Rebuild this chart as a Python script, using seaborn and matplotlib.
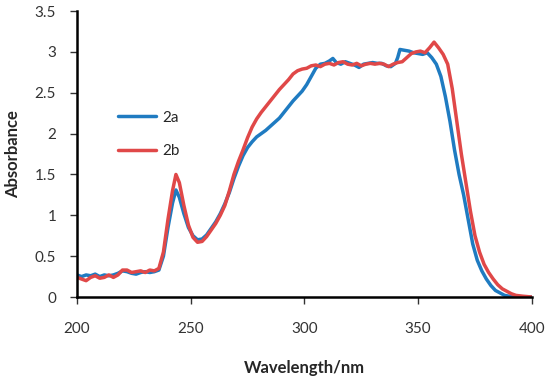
import numpy as np
import pandas as pd
import matplotlib
matplotlib.use("Agg")
import matplotlib.pyplot as plt
import seaborn as sns

# absorption spectra
wl_2a = [200, 202, 204, 206, 208, 210, 212, 214, 216, 218, 220, 222, 224, 226, 228, 230, 232, 234, 236,
         238, 240, 242, 243.5, 245, 247, 249, 251, 253, 255, 257, 259, 261, 263, 265, 267, 269, 271, 273,
         275, 277, 279, 281, 283, 285, 287, 289, 291, 293, 295, 297, 299, 301, 303, 305, 307, 309, 311,
         312.5, 314, 316, 318, 320, 322, 324, 326, 328, 330, 332, 334, 336, 338, 340, 341, 342, 344, 346,
         348, 350, 352, 354, 356, 358, 360, 362, 364, 366, 368, 370, 372, 374, 376, 378, 380, 382, 384,
         386, 388, 390, 394, 400]
abs_2a = [0.27, 0.25, 0.27, 0.26, 0.28, 0.25, 0.27, 0.26, 0.27, 0.29, 0.32, 0.31, 0.29, 0.28, 0.30, 0.31,
          0.30, 0.31, 0.33, 0.50, 0.85, 1.15, 1.31, 1.22, 1.02, 0.85, 0.75, 0.70, 0.71, 0.76, 0.84, 0.92,
          1.02, 1.14, 1.28, 1.45, 1.60, 1.73, 1.83, 1.90, 1.96, 2.00, 2.04, 2.09, 2.14, 2.19, 2.26, 2.33,
          2.40, 2.46, 2.52, 2.60, 2.70, 2.80, 2.85, 2.86, 2.89, 2.92, 2.87, 2.85, 2.88, 2.86, 2.84, 2.81,
          2.85, 2.86, 2.87, 2.86, 2.86, 2.83, 2.82, 2.86, 2.93, 3.03, 3.02, 3.01, 2.99, 2.98, 2.97, 2.99,
          2.93, 2.85, 2.70, 2.45, 2.15, 1.80, 1.50, 1.25, 0.95, 0.65, 0.45, 0.32, 0.22, 0.14, 0.08, 0.05,
          0.02, 0.01, 0.0, 0.0]

wl_2b = [200, 202, 204, 206, 208, 210, 212, 214, 216, 218, 220, 222, 224, 226, 228, 230, 232, 234, 236,
         238, 240, 242, 243.5, 245, 247, 249, 251, 253, 255, 257, 259, 261, 263, 265, 267, 269, 271, 273,
         275, 277, 279, 281, 283, 285, 287, 289, 291, 293, 295, 297, 299, 301, 303, 305, 307, 309, 311,
         313, 315, 317, 319, 321, 323, 325, 327, 329, 331, 333, 335, 337, 339, 341, 343, 345, 347, 349,
         351, 353, 355, 357, 359, 361, 363, 365, 367, 369, 371, 373, 375, 377, 379, 381, 383, 385, 387,
         389, 391, 393, 396, 400]
abs_2b = [0.24, 0.22, 0.20, 0.24, 0.26, 0.23, 0.24, 0.27, 0.24, 0.27, 0.33, 0.33, 0.30, 0.31, 0.32, 0.30,
          0.33, 0.32, 0.35, 0.55, 0.95, 1.30, 1.50, 1.40, 1.12, 0.88, 0.73, 0.67, 0.68, 0.74, 0.82, 0.90,
          1.00, 1.12, 1.30, 1.50, 1.66, 1.80, 1.95, 2.08, 2.18, 2.26, 2.33, 2.40, 2.47, 2.54, 2.60, 2.66,
          2.73, 2.77, 2.79, 2.80, 2.83, 2.84, 2.82, 2.85, 2.86, 2.84, 2.87, 2.88, 2.85, 2.84, 2.86, 2.83,
          2.85, 2.86, 2.85, 2.86, 2.85, 2.82, 2.85, 2.87, 2.88, 2.93, 2.98, 3.00, 3.01, 2.99, 3.05, 3.12,
          3.05, 2.97, 2.85, 2.55, 2.15, 1.75, 1.40, 1.05, 0.75, 0.55, 0.40, 0.30, 0.22, 0.15, 0.10, 0.07,
          0.04, 0.02, 0.01, 0.0]

df = pd.concat([
    pd.DataFrame({"wl": wl_2a, "A": abs_2a, "sample": "2a"}),
    pd.DataFrame({"wl": wl_2b, "A": abs_2b, "sample": "2b"}),
])

sns.set_style("ticks")
plt.rcParams["font.family"] = ["Lato", "DejaVu Sans"]

fig = plt.figure(figsize=(5.5, 3.82), dpi=100)
ax = fig.add_axes([0.14, 0.2225, 0.827, 0.7485])

sns.lineplot(data=df, x="wl", y="A", hue="sample", sort=False, estimator=None,
             palette={"2a": "#1f7bc1", "2b": "#e04848"}, linewidth=2.5, ax=ax)

ax.set_xlim(200, 400)
ax.set_ylim(0, 3.5)
ax.set_xticks([200, 250, 300, 350, 400])
ax.set_yticks([0, 0.5, 1, 1.5, 2, 2.5, 3, 3.5])
ax.set_yticklabels(["0", "0.5", "1", "1.5", "2", "2.5", "3", "3.5"])
ax.tick_params(axis="x", length=5, width=1, pad=13, labelsize=11, colors="#333333")
ax.tick_params(axis="y", length=5, width=1, pad=10, labelsize=11, colors="#333333")
for s in ["left", "bottom"]:
    ax.spines[s].set_linewidth(1.8)
    ax.spines[s].set_color("black")
sns.despine(ax=ax)

ax.set_xlabel("Wavelength/nm", fontsize=12, fontweight="bold", labelpad=17)
ax.set_ylabel("Absorbance", fontsize=12, fontweight="bold", labelpad=10)

ax.legend(title=None, frameon=False, loc="upper left", bbox_to_anchor=(0.06, 0.70),
          fontsize=11, labelspacing=1.3, handlelength=2.5, handletextpad=0.4)

fig.savefig("out.png", dpi=100)
